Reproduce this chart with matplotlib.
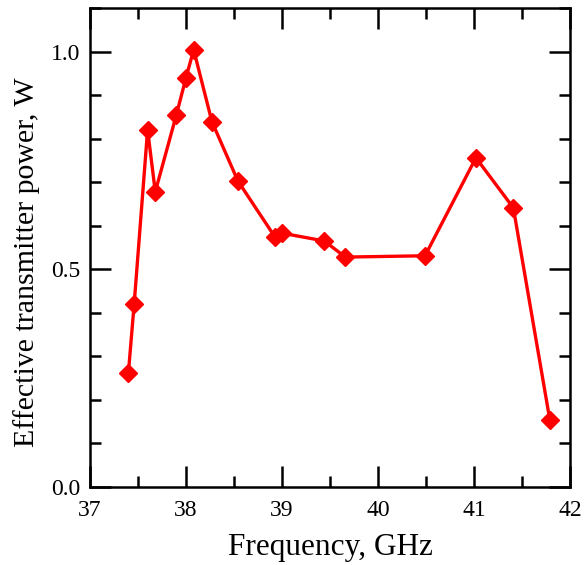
import matplotlib
matplotlib.use("Agg")
import matplotlib.pyplot as plt
from matplotlib.ticker import MultipleLocator

freq = [37.40, 37.46, 37.60, 37.68, 37.90, 38.00, 38.08, 38.27, 38.54,
        38.93, 39.00, 39.44, 39.66, 40.49, 41.02, 41.41, 41.79]
power = [0.262, 0.420, 0.820, 0.678, 0.855, 0.940, 1.004, 0.839, 0.703,
         0.573, 0.583, 0.565, 0.528, 0.531, 0.756, 0.641, 0.154]

plt.rcParams['font.family'] = ['Liberation Serif', 'DejaVu Serif']

fig = plt.figure(figsize=(5.88, 5.65), dpi=100)
ax = fig.add_axes([90/588, 1-487/565, 480/588, 479/565])

ax.plot(freq, power, color='#ff0000', lw=2.4, marker='D', ms=9, mec='#ff0000', mfc='#ff0000')

ax.set_xlim(37, 42)
ax.set_ylim(0, 1.1)
ax.xaxis.set_major_locator(MultipleLocator(1))
ax.xaxis.set_minor_locator(MultipleLocator(0.5))
ax.yaxis.set_major_locator(MultipleLocator(0.5))
ax.yaxis.set_minor_locator(MultipleLocator(0.1))
ax.yaxis.set_major_formatter(matplotlib.ticker.FormatStrFormatter('%.1f'))

ax.tick_params(which='both', direction='in', top=True, right=True, width=1.8, labelsize=17, colors='black')
ax.tick_params(which='major', length=15)
ax.tick_params(axis='x', which='major', pad=9)
ax.tick_params(axis='y', which='major', pad=7)
ax.tick_params(which='minor', length=8)
for s in ax.spines.values():
    s.set_linewidth(1.8)

ax.set_xlabel('Frequency, GHz', fontsize=22.5, labelpad=9)
ax.set_ylabel('Effective transmitter power, W', fontsize=21.5)
ax.yaxis.set_label_coords(-0.104, 0.47)

fig.savefig('out.png', dpi=100)
